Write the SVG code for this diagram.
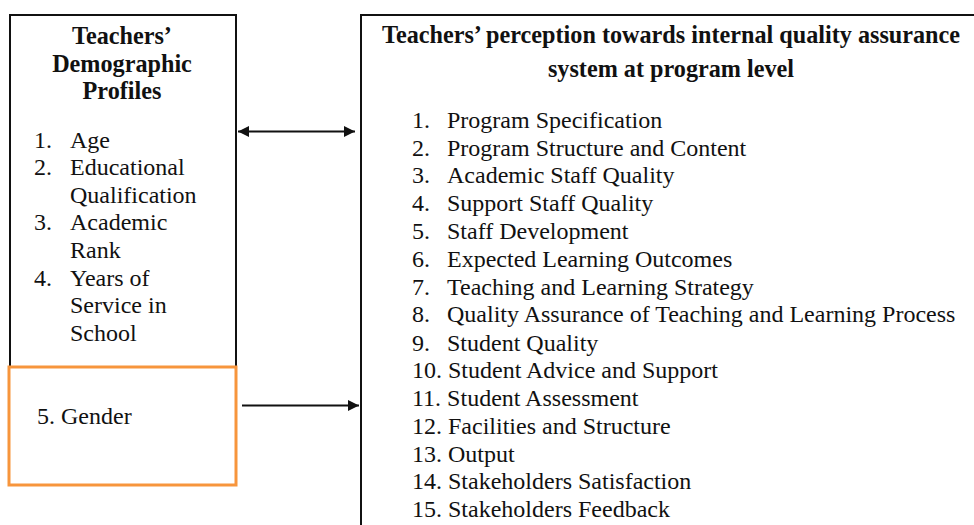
<svg xmlns="http://www.w3.org/2000/svg" width="974" height="525" viewBox="0 0 974 525">
<defs>
<style>
text{font-family:'Liberation Serif','Times New Roman',Times,'DejaVu Serif',serif;font-size:24px;fill:#111;}
.b{font-weight:bold;text-anchor:middle;font-size:24.2px;}
.box{fill:#fff;stroke:#111;stroke-width:2;}
.con{stroke:#111;stroke-width:2;fill:none;}
</style>
<marker id="ah" viewBox="0 0 10 10" refX="10" refY="5" markerWidth="5.5" markerHeight="5.5" orient="auto-start-reverse" markerUnits="strokeWidth">
<path d="M0,0 L10,5 L0,10 z" fill="#111"/>
</marker>
</defs>
<rect width="974" height="525" fill="#fff"/>
<g id="demographics">
<rect class="box" x="10" y="15" width="226" height="360"/>
<text class="b" x="122" y="44">Teachers’</text>
<text class="b" x="122" y="72">Demographic</text>
<text class="b" x="122" y="99">Profiles</text>
<text x="34" y="148">1.</text><text x="70" y="148">Age</text>
<text x="34" y="175">2.</text><text x="70" y="175">Educational</text>
<text x="70" y="203">Qualification</text>
<text x="34" y="230">3.</text><text x="70" y="230">Academic</text>
<text x="70" y="258">Rank</text>
<text x="34" y="286">4.</text><text x="70" y="286">Years of</text>
<text x="70" y="313">Service in</text>
<text x="70" y="341">School</text>
</g>
<g id="gender">
<rect x="9" y="367" width="227" height="118" fill="#fff" stroke="#F7953C" stroke-width="3"/>
<text x="37" y="424">5. Gender</text>
</g>
<g id="perception">
<rect class="box" x="361" y="15" width="640" height="540"/>
<text class="b" x="671" y="43">Teachers’ perception towards internal quality assurance</text>
<text class="b" x="671" y="77">system at program level</text>
<text x="412" y="128">1.</text><text x="447" y="128">Program Specification</text>
<text x="412" y="156">2.</text><text x="447" y="156">Program Structure and Content</text>
<text x="412" y="183">3.</text><text x="447" y="183">Academic Staff Quality</text>
<text x="412" y="211">4.</text><text x="447" y="211">Support Staff Quality</text>
<text x="412" y="239">5.</text><text x="447" y="239">Staff Development</text>
<text x="412" y="267">6.</text><text x="447" y="267">Expected Learning Outcomes</text>
<text x="412" y="295">7.</text><text x="447" y="295">Teaching and Learning Strategy</text>
<text x="412" y="322">8.</text><text x="447" y="322">Quality Assurance of Teaching and Learning Process</text>
<text x="412" y="351">9.</text><text x="447" y="351">Student Quality</text>
<text x="412" y="378">10. Student Advice and Support</text>
<text x="412" y="406">11. Student Assessment</text>
<text x="412" y="434">12. Facilities and Structure</text>
<text x="412" y="462">13. Output</text>
<text x="412" y="489">14. Stakeholders Satisfaction</text>
<text x="412" y="517">15. Stakeholders Feedback</text>
</g>
<g id="connectors">
<line class="con" x1="238" y1="131.5" x2="355" y2="131.5" marker-start="url(#ah)" marker-end="url(#ah)"/>
<line class="con" x1="242" y1="405.5" x2="359" y2="405.5" marker-end="url(#ah)"/>
</g>
</svg>
